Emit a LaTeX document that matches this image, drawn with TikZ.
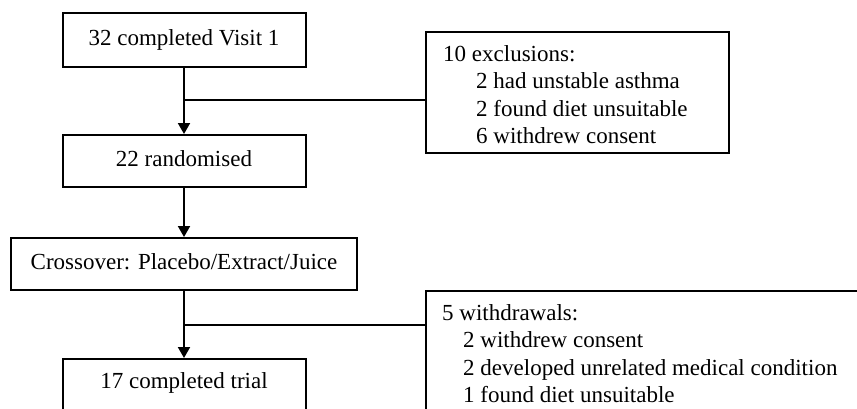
\documentclass[tikz,border=0pt]{standalone}
\usepackage{fontspec}
\setmainfont{Liberation Serif}
\usetikzlibrary{arrows.meta,calc}
\begin{document}
\begin{tikzpicture}[x=1pt,y=-1pt,
  every node/.style={font=\fontsize{23}{27.5}\selectfont},
  boxstyle/.style={draw, line width=2pt, rectangle, inner sep=0pt, text height=15pt, text depth=5pt},
  flowline/.style={line width=2pt},
  arr/.style={flowline, -{Triangle[length=11pt,width=12pt]}},
  listtext/.style={anchor=base west, inner sep=0pt}
]
\useasboundingbox (0,0) rectangle (857,408);
\clip (0,0) rectangle (857,408);
\fill[white] (0,0) rectangle (857,408);

\node[boxstyle, minimum width=243pt, minimum height=54pt] (b1) at (184,40) {32 completed Visit 1};
\node[boxstyle, minimum width=243pt, minimum height=52pt] (b2) at (184,161) {22 randomised};
\node[boxstyle, minimum width=346pt, minimum height=52pt] (b3) at (184,264) {Crossover: Placebo/Extract/Juice};
\node[boxstyle, minimum width=243pt, minimum height=80pt, text depth=37pt] (b4) at (184,399) {17 completed trial};

\node[draw, line width=2pt, rectangle, inner sep=0pt, anchor=north west, minimum width=303pt, minimum height=121pt] (ebox) at (425,31) {};
\node[listtext] (etext) at (443,61) {\begin{tabular}[t]{@{}l@{}}10 exclusions:\\\hspace{33pt}2 had unstable asthma\\\hspace{33pt}2 found diet unsuitable\\\hspace{33pt}6 withdrew consent\end{tabular}};

\node[draw, line width=2pt, rectangle, inner sep=0pt, anchor=north west, minimum width=500pt, minimum height=160pt] (wbox) at (425,290) {};
\node[listtext] (wtext) at (442,320) {\begin{tabular}[t]{@{}l@{}}5 withdrawals:\\\hspace{21pt}2 withdrew consent\\\hspace{21pt}2 developed unrelated medical condition\\\hspace{21pt}1 found diet unsuitable\end{tabular}};

\draw[arr] (b1.south) -- (b2.north);
\draw[arr] (b2.south) -- (b3.north);
\draw[arr] (b3.south) -- (b4.north);

\coordinate (j1) at (184,100);
\coordinate (j2) at (184,325);
\draw[flowline] (j1) -- (j1 -| ebox.west);
\draw[flowline] (j2) -- (j2 -| wbox.west);
\end{tikzpicture}
\end{document}
